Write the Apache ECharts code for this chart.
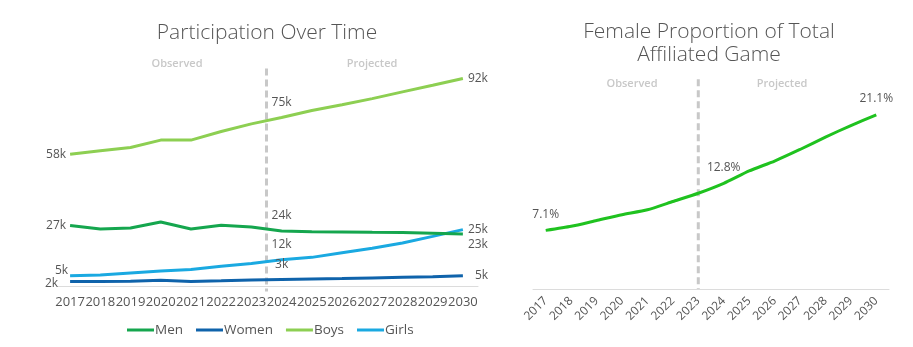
<!DOCTYPE html>
<html><head><meta charset="utf-8">
<script src="https://cdn.jsdelivr.net/npm/echarts@6/dist/echarts.min.js"></script>
<style>html,body{margin:0;padding:0;background:#fff}#c{width:913px;height:347px}</style>
</head><body><div id="c"></div>
<script>
const years = [2017,2018,2019,2020,2021,2022,2023,2024,2025,2026,2027,2028,2029,2030];
const men    = [26.8,25.3,25.7,28.4,25.3,26.9,26.2,24.4,24.1,24.0,23.8,23.7,23.4,23.1];
const women  = [2.0,2.0,2.1,2.6,2.0,2.3,2.7,2.9,3.1,3.3,3.6,3.9,4.1,4.6];
const boys   = [58.4,60.0,61.4,64.7,64.7,68.5,71.9,74.7,77.8,80.4,83.1,86.1,89.0,92.0];
const girls  = [4.6,4.9,5.8,6.7,7.3,8.8,10.0,11.6,12.7,14.7,16.7,19.1,22.0,25.0];
const femaleShare = [7.1,7.6,8.3,9.0,9.6,10.6,11.6,12.8,14.3,15.5,16.9,18.4,19.8,21.1];
const seriesNames = ['Men','Women','Boys','Girls'];
const leftTitle = 'Participation Over Time';
const rightTitle = 'Female Proportion of Total\nAffiliated Game';
const splitYearLeft = 2023.5;
const splitYearRight = 2023;

const FONT = '"Open Sans", sans-serif';
const TXT = '#555';
const colors = {Men:'#15a64e', Women:'#0f63ab', Boys:'#8dcf52', Girls:'#1aa9e1'};

const labelCfg = {
  Men:   {0:{position:'left',distance:4}, 7:{position:'top',distance:9}, 13:{position:'right',distance:5,dy:11}},
  Women: {0:{position:'left',distance:4,dx:-8,dy:2}, 7:{position:'top',distance:9}, 13:{position:'right',distance:5,dx:7}},
  Boys:  {0:{position:'left',distance:4}, 7:{position:'top',distance:9}, 13:{position:'right',distance:5}},
  Girls: {0:{position:'left',distance:2,dy:-5}, 7:{position:'top',distance:9}, 13:{position:'right',distance:5}}
};
const seriesValues = {Men:men, Women:women, Boys:boys, Girls:girls};

function buildData(name){
  return seriesValues[name].map((v,i)=>{
    const lc = labelCfg[name][i];
    if(lc) return {value:[years[i],v], label:{show:true, position:lc.position, distance:lc.distance}};
    return [years[i],v];
  });
}

const leftSeries = seriesNames.map(n=>({
  name:n, type:'line', xAxisIndex:0, yAxisIndex:0,
  data:buildData(n), showSymbol:true, symbol:'circle', symbolSize:0, smooth:false,
  lineStyle:{width:3,color:colors[n]}, itemStyle:{color:colors[n]},
  label:{show:false,fontFamily:FONT,fontSize:12,color:TXT,formatter:p=>Math.round(p.value[1])+'k'},
  labelLayout:function(params){
    const lc = labelCfg[n][params.dataIndex] || {};
    return {dx:lc.dx||0, dy:lc.dy||0, hideOverlap:false};
  },
  z: n==='Men'?3:2
}));

const rightLabelIdx = {0:true,7:true,13:true};
const rightSeries = {
  name:'Female Proportion', type:'line', xAxisIndex:1, yAxisIndex:1,
  data: femaleShare.map((v,i)=> rightLabelIdx[i] ? {value:[years[i],v],label:{show:true}} : [years[i],v]),
  showSymbol:true, symbol:'circle', symbolSize:0, smooth:0.2,
  lineStyle:{width:3,color:'#1fc21f'}, itemStyle:{color:'#1fc21f'},
  label:{show:false,position:'top',distance:10,fontFamily:FONT,fontSize:12,color:TXT,formatter:p=>p.value[1].toFixed(1)+'%'}
};

const chart = echarts.init(document.getElementById('c'), null, {renderer:'canvas'});
const option = {
  animation:false,
  textStyle:{fontFamily:FONT},
  grid:[
    {left:58, right:435, top:60.5, bottom:61},
    {left:533, right:24, top:82.6, bottom:58}
  ],
  xAxis:[
    {gridIndex:0,type:'value',min:2016.6,max:2030.5,
     axisLine:{lineStyle:{color:'#dcdcdc',width:1}},axisTick:{show:false},splitLine:{show:false},
     axisLabel:{customValues:years,formatter:v=>String(v),color:TXT,fontSize:13,fontFamily:FONT,margin:10}},
    {gridIndex:1,type:'value',min:2016.5,max:2030.5,
     axisLine:{lineStyle:{color:'#dcdcdc',width:1}},axisTick:{show:false},splitLine:{show:false},
     axisLabel:{customValues:years,formatter:v=>String(v),rotate:45,color:TXT,fontSize:12,fontFamily:FONT,margin:10}}
  ],
  yAxis:[
    {gridIndex:0,type:'value',min:0,max:100,show:false,splitLine:{show:false}},
    {gridIndex:1,type:'value',min:0,max:25,show:false,splitLine:{show:false}}
  ],
  legend:{data:seriesNames,left:122,top:318,
    icon:'rect',itemWidth:27,itemHeight:3,itemGap:13,
    textStyle:{color:TXT,fontSize:13.5,fontFamily:FONT,padding:[0,0,0,-4]}},
  series:[...leftSeries, rightSeries]
};
chart.setOption(option);

const p0a = chart.convertToPixel({gridIndex:0},[splitYearLeft,96.5]);
const p0b = chart.convertToPixel({gridIndex:0},[splitYearLeft,-2.4]);
const p1a = chart.convertToPixel({gridIndex:1},[splitYearRight,25.4]);
const p1b = chart.convertToPixel({gridIndex:1},[splitYearRight,0]);
const dash = {stroke:'#c8c8c8',lineWidth:3,lineDash:[7,4]};
const small = {fill:'#c8c8c8',fontSize:11,fontWeight:600,fontFamily:FONT,textAlign:'center',textVerticalAlign:'middle'};
const big = {fill:TXT,fontSize:21,fontWeight:300,fontFamily:FONT,textAlign:'center',textVerticalAlign:'middle',lineHeight:23};
chart.setOption({graphic:[
  {type:'line',shape:{x1:p0a[0],y1:p0a[1],x2:p0b[0],y2:p0b[1]},style:dash,z:1,silent:true},
  {type:'line',shape:{x1:p1a[0],y1:p1a[1],x2:p1b[0],y2:p1b[1]},style:dash,z:1,silent:true},
  {type:'text',x:177,y:64,style:Object.assign({text:'Observed'},small)},
  {type:'text',x:372,y:64,style:Object.assign({text:'Projected'},small)},
  {type:'text',x:632,y:84,style:Object.assign({text:'Observed'},small)},
  {type:'text',x:782,y:84,style:Object.assign({text:'Projected'},small)},
  {type:'text',x:267,y:33,style:Object.assign({text:leftTitle},big)},
  {type:'text',x:709,y:44,style:Object.assign({text:rightTitle},big)}
]});
</script></body></html>
